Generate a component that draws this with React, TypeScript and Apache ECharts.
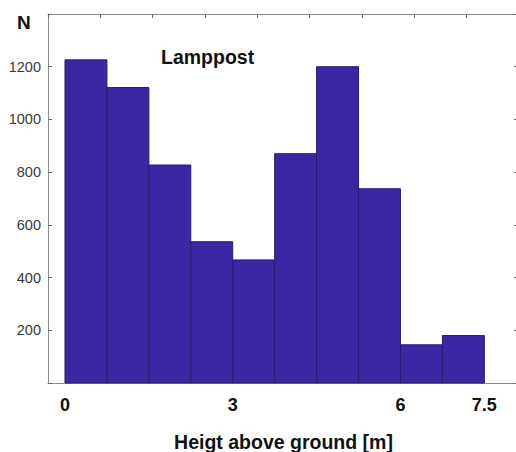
import React, { useEffect, useRef } from "react";
import * as echarts from "echarts";

const binEdges = [0, 0.75, 1.5, 2.25, 3, 3.75, 4.5, 5.25, 6, 6.75, 7.5];
const counts = [1226, 1121, 827, 536, 467, 870, 1200, 737, 145, 180];
const xTickLabels = [0, 3, 6, 7.5];
const yTicks = [200, 400, 600, 800, 1000, 1200];
const yAxisName = "N";
const xAxisName = "Heigt above ground [m]";
const titleText = "Lamppost";

export default function App() {
  const ref = useRef<HTMLDivElement>(null);
  useEffect(() => {
    if (!ref.current) return;
    const chart = echarts.init(ref.current, undefined, { renderer: "svg" });
    const data = counts.map((c, i) => [binEdges[i], binEdges[i + 1], c]);
    const font = "Arial, 'Liberation Sans', sans-serif";
    chart.setOption({
      animation: false,
      backgroundColor: "#ffffff",
      grid: { left: 48, top: 14, right: -3, bottom: 69, containLabel: false, outerBoundsMode: "none" },
      xAxis: [
        {
          type: "value",
          min: -0.304,
          max: 8.12,
          position: "bottom",
          axisLine: { show: true, onZero: false, lineStyle: { color: "#8a8a8a", width: 1 } },
          axisTick: { show: false },
          splitLine: { show: false },
          axisLabel: {
            customValues: xTickLabels,
            color: "#111",
            fontWeight: "bold",
            fontSize: 18,
            fontFamily: font,
            margin: 13,
          },
          name: xAxisName,
          nameLocation: "middle",
          nameGap: 49,
          nameTextStyle: { color: "#111", fontWeight: "bold", fontSize: 19.5, fontFamily: font },
        },
        {
          type: "value",
          min: 0,
          max: 9,
          interval: 1,
          position: "top",
          axisLine: { show: true, onZero: false, lineStyle: { color: "#8a8a8a", width: 1 } },
          axisTick: { show: true, inside: true, length: 4, lineStyle: { color: "#666" } },
          axisLabel: { show: false },
          splitLine: { show: false },
        },
      ],
      yAxis: [
        {
          type: "value",
          min: 0,
          max: 1400,
          interval: 200,
          axisLine: { show: true, onZero: false, lineStyle: { color: "#8a8a8a", width: 1 } },
          axisTick: { show: true, inside: true, length: 4, lineStyle: { color: "#666" } },
          splitLine: { show: false },
          axisLabel: {
            color: "#3a3a3a",
            fontSize: 14.5,
            fontFamily: font,
            margin: 7,
            formatter: (v: number) => (yTicks.includes(v) ? String(v) : ""),
          },
        },
        {
          type: "value",
          min: 0,
          max: 1400,
          interval: 200,
          position: "right",
          axisLine: { show: false, onZero: false },
          axisTick: { show: true, inside: true, length: 5, lineStyle: { color: "#666" } },
          axisLabel: { show: false },
          splitLine: { show: false },
        },
      ],
      graphic: [
        {
          type: "text",
          left: 17,
          top: 13,
          style: { text: yAxisName, fill: "#111", font: `bold 19px ${font}` },
        },
        {
          type: "text",
          left: 161,
          top: 47,
          style: { text: titleText, fill: "#111", font: `bold 19.5px ${font}` },
        },
      ],
      series: [
        {
          type: "custom",
          xAxisIndex: 0,
          yAxisIndex: 0,
          data,
          encode: { x: [0, 1], y: 2 },
          renderItem: (params: any, api: any) => {
            const x0 = api.value(0);
            const x1 = api.value(1);
            const y = api.value(2);
            const p0 = api.coord([x0, y]);
            const p1 = api.coord([x1, 0]);
            return {
              type: "rect",
              shape: { x: p0[0], y: p0[1], width: p1[0] - p0[0], height: p1[1] - p0[1] },
              style: { fill: "#3a27a3", stroke: "#2a1c6e", lineWidth: 1 },
            };
          },
        },
      ],
    });
    return () => chart.dispose();
  }, []);
  return (
    <div
      ref={ref}
      style={{ position: "fixed", left: 0, top: 0, width: 516, height: 452 }}
    />
  );
}
